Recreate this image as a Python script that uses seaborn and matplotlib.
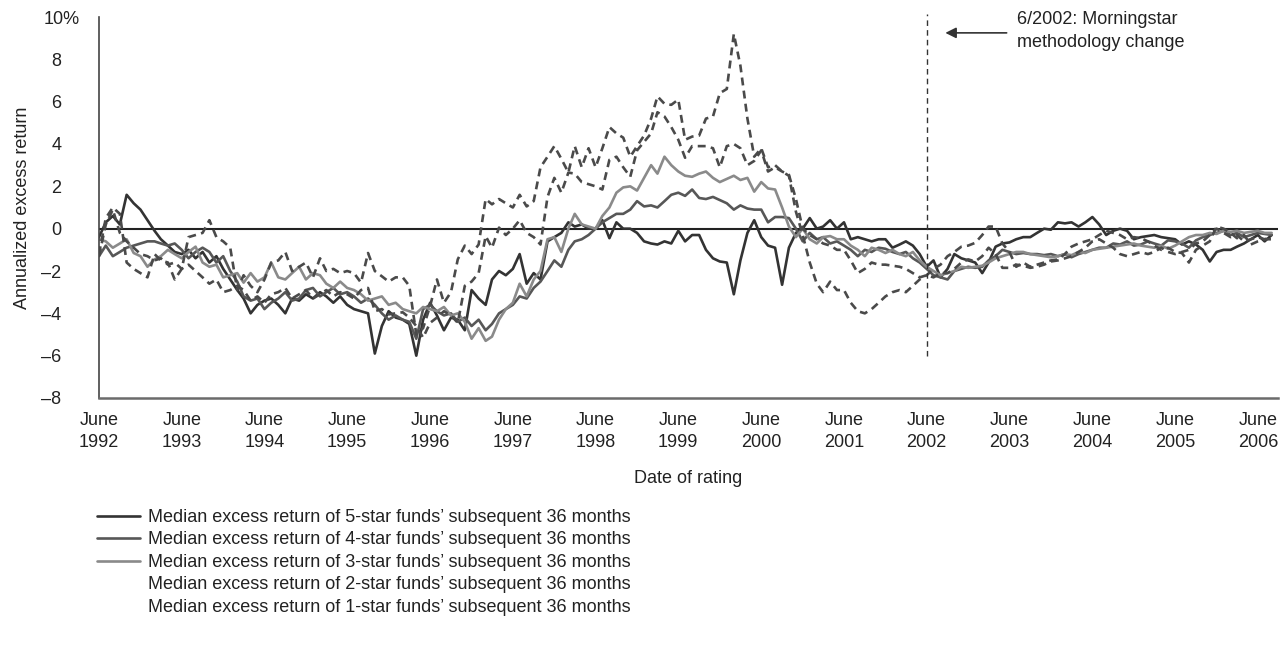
import pandas as pd
import numpy as np
import seaborn as sns
import matplotlib.pyplot as plt
from matplotlib.lines import Line2D
from matplotlib.transforms import ScaledTranslation

# Monthly values from June 1992; each row is one year (June..May), last row June-Aug 2006
five_star = [
    -0.4, 0.3, 0.6, 0.2, 1.6, 1.2, 0.9, 0.4, -0.1, -0.5, -0.8, -1.1,
    -1.2, -1.0, -1.4, -1.1, -1.6, -1.3, -1.9, -2.4, -2.9, -3.3, -4.0, -3.6,
    -3.4, -3.3, -3.6, -4.0, -3.3, -3.4, -3.1, -3.3, -3.0, -3.2, -3.5, -3.2,
    -3.6, -3.8, -3.9, -4.0, -5.9, -4.6, -3.9, -4.2, -4.3, -4.5, -6.0, -4.3,
    -3.5, -4.1, -4.8, -4.2, -4.3, -4.8, -2.9, -3.3, -3.6, -2.4, -2.0, -2.2,
    -1.9, -1.2, -2.6, -2.1, -2.4, -0.6, -0.4, -0.2, 0.3, 0.1, 0.2, 0.0,
    0.0, 0.4, -0.45, 0.3, 0.0, 0.0, -0.2, -0.6, -0.7, -0.75, -0.6, -0.7,
    -0.1, -0.6, -0.3, -0.3, -1.0, -1.4, -1.55, -1.6, -3.1, -1.5, -0.2, 0.4,
    -0.4, -0.8, -0.9, -2.65, -0.9, -0.2, 0.0, 0.5, 0.0, 0.1, 0.4, 0.0,
    0.3, -0.5, -0.4, -0.5, -0.6, -0.5, -0.5, -0.9, -0.75, -0.6, -0.8, -1.2,
    -1.8, -1.5, -2.3, -1.9, -1.2, -1.4, -1.5, -1.6, -2.1, -1.6, -0.85, -0.7,
    -0.65, -0.5, -0.4, -0.4, -0.2, 0.0, -0.05, 0.3, 0.25, 0.3, 0.1, 0.3,
    0.55, 0.2, -0.3, -0.1, 0.0, -0.1, -0.5, -0.4, -0.35, -0.3, -0.4, -0.45,
    -0.5, -0.75, -0.6, -0.75, -1.0, -1.55, -1.1, -1.0, -1.0, -0.85, -0.7, -0.5,
    -0.3, -0.6, -0.3,
]
four_star = [
    -1.3, -0.8, -1.3, -1.1, -0.9, -0.8, -0.7, -0.6, -0.6, -0.7, -0.8, -0.7,
    -1.0, -1.4, -1.1, -0.9, -1.1, -1.6, -1.3, -2.0, -2.5, -3.2, -3.4, -3.3,
    -3.8, -3.5, -3.3, -3.0, -3.4, -3.3, -2.9, -2.8, -3.2, -3.0, -2.8, -3.1,
    -3.0, -3.2, -3.5, -3.3, -3.6, -4.0, -4.3, -4.1, -4.3, -4.4, -5.2, -3.8,
    -3.6, -3.9, -4.1, -4.0, -4.4, -4.2, -4.6, -4.3, -4.8, -4.5, -4.0, -3.8,
    -3.6, -3.2, -3.3, -2.8, -2.5, -2.0, -1.5, -1.8, -1.0, -0.6, -0.5, -0.3,
    0.0, 0.3, 0.5, 0.7, 0.7, 0.9, 1.3, 1.05, 1.1, 1.0, 1.3, 1.6,
    1.7, 1.55, 1.85, 1.45, 1.4, 1.5, 1.35, 1.2, 0.9, 1.1, 0.95, 0.9,
    0.9, 0.3, 0.55, 0.55, 0.5, 0.0, -0.6, -0.2, -0.5, -0.4, -0.7, -0.6,
    -0.8, -1.0, -1.3, -1.0, -1.1, -0.9, -0.95, -1.1, -1.2, -1.1, -1.4, -1.6,
    -1.9, -2.2, -2.3, -2.4, -2.0, -1.9, -1.8, -1.85, -1.8, -1.5, -1.3, -1.0,
    -1.1, -1.2, -1.15, -1.2, -1.2, -1.25, -1.2, -1.3, -1.2, -1.35, -1.2, -1.1,
    -1.0, -0.9, -0.9, -0.7, -0.75, -0.6, -0.8, -0.75, -0.6, -0.7, -0.8, -0.55,
    -0.6, -0.7, -0.9, -0.55, -0.4, -0.3, -0.2, -0.1, -0.3, -0.2, -0.4, -0.3,
    -0.2, -0.25, -0.3,
]
three_star = [
    -0.5, -0.6, -0.9, -0.7, -0.5, -1.15, -1.3, -1.8, -1.45, -1.3, -1.0, -1.2,
    -1.4, -1.1, -0.85, -1.6, -1.8, -1.7, -2.3, -2.2, -2.1, -2.55, -2.1, -2.5,
    -2.3, -1.6, -2.3, -2.4, -2.1, -1.8, -2.4, -2.1, -2.2, -2.6, -2.8, -2.5,
    -2.8, -2.9, -3.1, -3.4, -3.3, -3.2, -3.6, -3.5, -3.8, -3.9, -4.0, -3.7,
    -3.8, -3.9, -3.7, -4.1, -4.0, -4.4, -5.2, -4.7, -5.3, -5.1, -4.3, -3.8,
    -3.5, -2.6, -3.2, -2.4, -2.0, -0.5, -0.4, -1.1, 0.0, 0.7, 0.2, 0.1,
    0.0, 0.6, 1.0, 1.7, 1.95, 2.0, 1.8, 2.4, 3.0, 2.6, 3.4, 3.0,
    2.7, 2.5, 2.45, 2.6, 2.7, 2.4, 2.2, 2.35, 2.5, 2.3, 2.4, 1.75,
    2.2, 1.9, 1.85, 1.0, 0.1, -0.4, 0.0, -0.5, -0.7, -0.4, -0.35, -0.5,
    -0.5, -0.8, -1.0, -1.3, -0.9, -1.0, -1.15, -1.0, -1.2, -1.3, -1.1, -1.5,
    -1.8, -2.0, -2.2, -2.1, -2.0, -1.8, -1.85, -1.8, -1.75, -1.6, -1.4, -1.3,
    -1.2, -1.1, -1.1, -1.2, -1.25, -1.3, -1.35, -1.3, -1.2, -1.25, -1.1, -1.15,
    -1.0, -0.95, -0.9, -0.85, -0.8, -0.75, -0.7, -0.8, -0.85, -0.9, -0.8, -0.95,
    -0.8, -0.6, -0.4, -0.3, -0.3, -0.2, -0.25, -0.1, -0.15, -0.1, -0.2, -0.15,
    -0.1, -0.2, -0.2,
]
two_star = [
    -1.3, 0.2, 0.9, -0.2, -0.6, -0.9, -1.2, -1.3, -1.5, -1.4, -1.7, -1.6,
    -1.9, -1.7, -2.0, -2.3, -2.6, -2.4, -3.0, -2.9, -2.7, -2.9, -3.4, -3.2,
    -3.5, -3.1, -3.0, -2.8, -3.3, -3.1, -2.9, -3.3, -3.1, -2.9, -3.2, -3.0,
    -3.1, -3.3, -2.9, -2.8, -3.9, -3.8, -4.05, -4.0, -3.95, -4.2, -4.6, -5.15,
    -4.45, -4.2, -3.9, -4.1, -4.45, -2.7, -2.5, -2.1, -0.35, -0.9, 0.05, -0.3,
    0.0, 0.4, -0.2, -0.4, -0.75, 1.5, 2.4, 1.7, 2.65, 2.6, 2.2, 2.1,
    2.0, 1.85, 3.25, 3.4, 2.9, 2.45, 3.7, 4.1, 4.5, 5.5, 5.3, 4.8,
    4.2, 3.35, 3.9, 3.9, 3.9, 3.8, 2.9, 3.9, 4.0, 3.8, 3.0, 3.2,
    3.7, 2.7, 2.9, 2.7, 2.55, 1.4, 0.0, -0.3, -0.5, -0.7, -0.8, -1.0,
    -1.0, -1.5, -2.1, -1.9, -1.6, -1.7, -1.7, -1.75, -1.8, -1.9, -2.1, -2.3,
    -2.2, -2.3, -2.1, -2.1, -1.9, -1.6, -1.45, -1.55, -1.3, -0.9, -1.2, -1.85,
    -1.85, -1.7, -1.75, -1.85, -1.8, -1.7, -1.55, -1.5, -1.4, -1.3, -1.1, -0.9,
    -0.6, -0.5, -0.7, -0.9, -1.2, -1.3, -1.2, -1.1, -1.2, -1.1, -0.9, -1.1,
    -1.2, -1.1, -1.0, -0.7, -0.6, -0.3, 0.0, -0.2, -0.4, -0.3, -0.6, -0.5,
    -0.4, -0.5, -0.4,
]
one_star = [
    -1.2, 0.5, 1.0, 0.7, -1.6, -1.9, -2.1, -2.3, -1.2, -1.5, -1.6, -2.4,
    -1.9, -0.4, -0.3, -0.2, 0.4, -0.4, -0.6, -0.9, -2.9, -2.2, -2.7, -3.0,
    -2.4, -1.6, -1.5, -1.1, -2.0, -1.8, -1.6, -2.3, -1.4, -2.0, -1.9, -2.1,
    -2.0, -2.1, -2.55, -1.15, -2.0, -2.25, -2.5, -2.3, -2.3, -2.7, -5.0, -4.7,
    -3.65, -2.4, -3.5, -3.0, -1.45, -0.8, -1.2, -0.75, 1.4, 1.15, 1.4, 1.2,
    1.0, 1.6, 1.05, 1.3, 2.9, 3.4, 3.9, 3.3, 2.65, 3.9, 2.9, 3.8,
    2.9, 3.8, 4.8, 4.5, 4.3, 3.4, 3.9, 4.4, 5.2, 6.25, 5.9, 5.85,
    6.1, 4.2, 4.35, 4.4, 5.2, 5.3, 6.4, 6.6, 9.2, 7.7, 5.2, 3.4,
    3.8, 2.9, 3.0, 2.7, 2.5, 0.8, -0.3, -1.6, -2.6, -3.0, -2.5, -2.9,
    -2.9, -3.5, -3.9, -4.0, -3.8, -3.5, -3.2, -3.0, -2.9, -3.0, -2.7, -2.4,
    -2.2, -1.9, -1.7, -1.3, -1.1, -0.85, -0.8, -0.67, -0.3, 0.1, 0.1, -0.7,
    -1.1, -1.8, -1.6, -1.8, -1.7, -1.6, -1.5, -1.45, -1.2, -0.85, -0.7, -0.6,
    -0.5, -0.3, -0.1, -0.2, -0.3, -0.5, -0.4, -0.45, -0.6, -0.8, -1.0, -0.9,
    -1.1, -1.15, -1.6, -1.0, -0.8, -0.6, 0.1, 0.0, -0.2, -0.45, -0.3, -0.75,
    -0.6, -0.5, -0.5,
]

labels = [
    "Median excess return of 5-star funds\u2019 subsequent 36 months",
    "Median excess return of 4-star funds\u2019 subsequent 36 months",
    "Median excess return of 3-star funds\u2019 subsequent 36 months",
    "Median excess return of 2-star funds\u2019 subsequent 36 months",
    "Median excess return of 1-star funds\u2019 subsequent 36 months",
]
years = list(range(1992, 2007))
y_ticks = [-8, -6, -4, -2, 0, 2, 4, 6, 8, 10]

dates = pd.date_range("1992-06-01", periods=len(five_star), freq="MS")
df = pd.DataFrame({"date": dates})
for lab, vals in zip(labels, [five_star, four_star, three_star, two_star, one_star]):
    df[lab] = vals
long = df.melt(id_vars="date", var_name="series", value_name="value")

colors = dict(zip(labels, ["#333333", "#575757", "#8a8a8a", "#4a4a4a", "#4a4a4a"]))
dashes = dict(zip(labels, ["", "", "", (3, 2), (3, 2)]))

sns.set_style("white")
plt.rcParams["font.family"] = ["Liberation Sans", "DejaVu Sans"]
plt.rcParams["font.size"] = 13

fig = plt.figure(figsize=(12.88, 6.49), dpi=100)
ax = fig.add_axes([99 / 1288, 1 - 398 / 649, (1278 - 99) / 1288, (398 - 17) / 649])

ax.axhline(0, color="#222222", lw=1.5, zorder=1)
sns.lineplot(data=long, x="date", y="value", hue="series", style="series",
             palette=colors, dashes=dashes, linewidth=1.9, estimator=None,
             legend=False, ax=ax, zorder=2)

# methodology change marker
change = pd.Timestamp("2002-06-01")
ax.vlines(change, -6, 10.15, colors="#333333", linestyles=(0, (4, 3)), lw=1.0, clip_on=False)
ax.annotate("", xy=(pd.Timestamp("2002-08-10"), 9.25), xytext=(pd.Timestamp("2003-06-01"), 9.25),
            arrowprops=dict(arrowstyle="-|>", color="#333333", lw=1.2, mutation_scale=16),
            annotation_clip=False)
ax.text(pd.Timestamp("2003-07-05"), 9.35, "6/2002: Morningstar\nmethodology change",
        ha="left", va="center", fontsize=13, color="#222222", linespacing=1.45)

ax.set_xlim(dates[0], dates[0] + pd.DateOffset(days=int(170.9 * 30.44)))
ax.set_ylim(-8, 10)

xt = [pd.Timestamp(f"{y}-06-01") for y in years]
ax.set_xticks(xt)
ax.set_xticklabels([f"June\n{y}" for y in years])
ax.set_yticks(y_ticks)
ax.set_yticklabels([f"{v}%" if v == 10 else f"{v}".replace("-", "\u2013") for v in y_ticks])

ax.tick_params(axis="x", direction="in", length=7, width=1.2, color="#555555", pad=10,
               labelsize=13, labelcolor="#222222")
ax.tick_params(axis="y", direction="out", length=7, width=1.2, color="#444444", pad=20,
               labelsize=13, labelcolor="#222222")
for t in ax.get_xticklabels():
    t.set_linespacing(1.4)
top = ax.get_yticklabels()[-1]
top.set_transform(top.get_transform() + ScaledTranslation(0.18, 0, fig.dpi_scale_trans))

for s in ["top", "right"]:
    ax.spines[s].set_visible(False)
ax.spines["bottom"].set_color("#6b6b6b")
ax.spines["bottom"].set_linewidth(1.8)
ax.spines["left"].set_color("#444444")
ax.spines["left"].set_linewidth(1.2)

ax.set_xlabel("Date of rating", fontsize=13, color="#222222")
ax.xaxis.set_label_coords(0.5, -0.19)
ax.xaxis.label.set_va("top")
ax.set_ylabel("Annualized excess return", fontsize=13, color="#222222")
ax.yaxis.set_label_coords(-0.058, 0.5)

handles = [Line2D([], [], color=colors[l], lw=1.9) for l in labels[:3]]
handles += [Line2D([], [], linestyle="none") for l in labels[3:]]
fig.legend(handles, labels, loc="upper left", bbox_to_anchor=(97 / 1288, 1 - 509 / 649),
           frameon=False, fontsize=13, handlelength=2.4, handletextpad=0.45,
           labelspacing=0.3, borderpad=0, borderaxespad=0, labelcolor="#222222")

fig.savefig("out.png", dpi=100)
